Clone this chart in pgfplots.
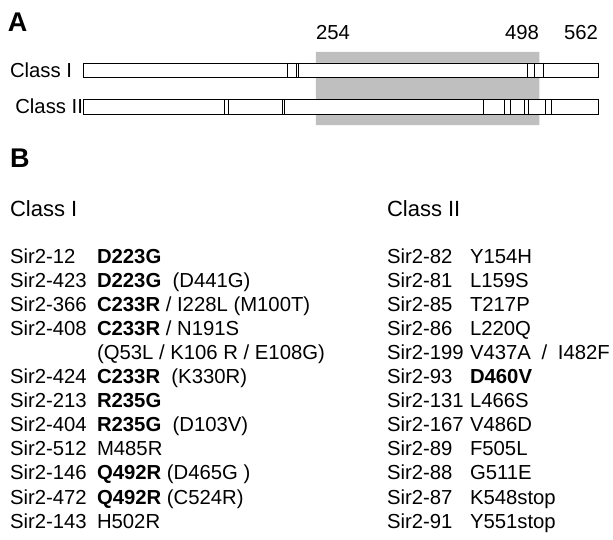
\documentclass[border=0pt]{standalone}
\usepackage{pgfplots}
\pgfplotsset{compat=1.18}
\usepackage{fontspec}
\setmainfont{Liberation Sans}
\begin{document}
\begin{tikzpicture}[x=1pt,y=-1pt]
\begin{axis}[
  at={(0,0)}, anchor=north west,
  width=613pt, height=540pt, scale only axis, hide axis, clip=false,
  xmin=-90.57, xmax=578.35, ymin=0, ymax=540, y dir=reverse]
% conserved domain 254-498
\addplot[draw=none, fill=black!25] coordinates {(254,52) (498,52) (498,125) (254,125) (254,52)};
% Class I bar
\addplot[draw=black, line width=0.9pt, fill=white] coordinates {(0,63) (562,63) (562,77) (0,77) (0,63)};
% Class II bar
\addplot[draw=black, line width=0.9pt, fill=white] coordinates {(0,99) (562,99) (562,114) (0,114) (0,99)};
% Class I mutations
\pgfplotsinvokeforeach{223,233,235,485,492,502}{
  \addplot[black, line width=0.7pt] coordinates {(#1,63) (#1,77)};
}
% Class II mutations
\pgfplotsinvokeforeach{154,159,217,220,437,460,466,482,486,505,511}{
  \addplot[black, line width=0.7pt] coordinates {(#1,99) (#1,114)};
}
\end{axis}
\path[use as bounding box] (0,0) rectangle (613,540);
\tikzset{every node/.style={inner sep=0pt, outer sep=0pt, anchor=base west}}
\newcommand{\fs}{\fontsize{20.3}{24}\selectfont}
% Part A
\node at (8,32) {\fontsize{27}{30}\selectfont\bfseries A};
\node at (316,40) {\fs 254};
\node[anchor=base east] at (539,40) {\fs 498};
\node[anchor=base east] at (598,40) {\fs 562};
\node at (10,78) {\fs Class I};
\node[anchor=base east] at (83,114) {\fs Class II};
% Part B
\node at (10,168) {\fontsize{27}{30}\selectfont\bfseries B};
\node at (10,217) {\fontsize{22}{26}\selectfont Class I};
\node at (387,217) {\fontsize{22}{26}\selectfont Class II};
\foreach \i/\a/\b in {
  0/Sir2-12/\textbf{D223G},
  1/Sir2-423/{\textbf{D223G}\ \ (D441G)},
  2/Sir2-366/{\textbf{C233R} / I228L (M100T)},
  3/Sir2-408/{\textbf{C233R} / N191S},
  4/{}/{(Q53L / K106 R / E108G)},
  5/Sir2-424/{\textbf{C233R}\ \ (K330R)},
  6/Sir2-213/\textbf{R235G},
  7/Sir2-404/{\textbf{R235G}\ \ (D103V)},
  8/Sir2-512/M485R,
  9/Sir2-146/{\textbf{Q492R} (D465G )},
  10/Sir2-472/{\textbf{Q492R} (C524R)},
  11/Sir2-143/H502R}{
  \node at (10,263+24.1*\i) {\fs \a};
  \node at (97,263+24.1*\i) {\fs \b};
}
\foreach \i/\a/\b in {
  0/Sir2-82/Y154H,
  1/Sir2-81/L159S,
  2/Sir2-85/T217P,
  3/Sir2-86/L220Q,
  4/Sir2-199/{V437A\hspace{5pt} / \hspace{5pt}I482F},
  5/Sir2-93/\textbf{D460V},
  6/Sir2-131/L466S,
  7/Sir2-167/V486D,
  8/Sir2-89/F505L,
  9/Sir2-88/G511E,
  10/Sir2-87/K548stop,
  11/Sir2-91/Y551stop}{
  \node at (387,263+24.1*\i) {\fs \a};
  \node at (470,263+24.1*\i) {\fs \b};
}
\end{tikzpicture}
\end{document}
